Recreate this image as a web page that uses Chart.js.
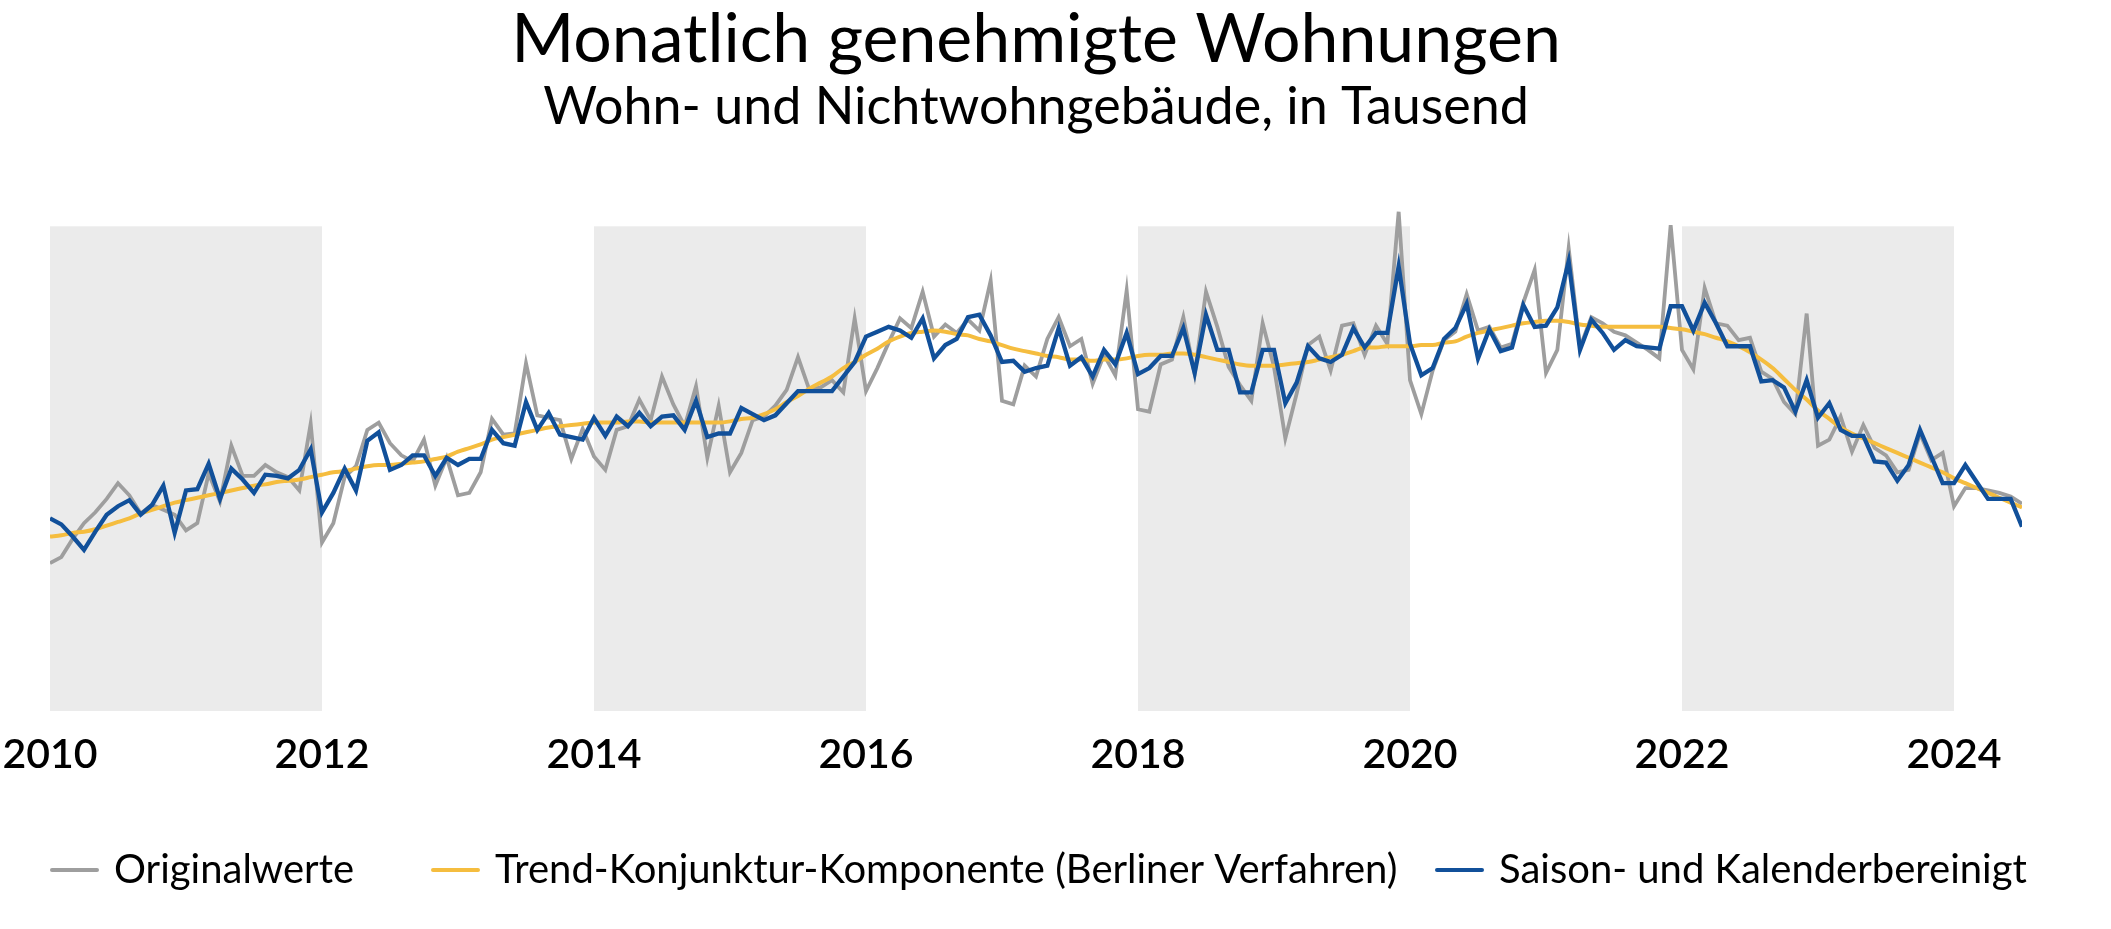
<!DOCTYPE html>
<html>
<head>
<meta charset="utf-8">
<script src="https://cdn.jsdelivr.net/npm/chart.js@4.4.1/dist/chart.umd.min.js"></script>
<style>
  html, body { margin: 0; padding: 0; background: #ffffff; }
  #wrap { width: 2111px; height: 929px; position: relative; }
</style>
</head>
<body>
<div id="wrap"><canvas id="chart"></canvas></div>
<script>
// ---------- data ----------
const startYear = 2010; // first month: January 2010, monthly values
const originalValues = [
  12.2, 12.7, 14.2, 15.5, 16.4, 17.5, 18.8, 17.8, 16.3, 17.0, 16.6, 16.2,
  14.9, 15.5, 19.6, 17.3, 21.9, 19.4, 19.4, 20.3, 19.7, 19.3, 18.2, 23.7,
  13.9, 15.5, 19.3, 20.2, 23.2, 23.8, 22.1, 21.1, 20.6, 22.4, 18.6, 20.9,
  17.8, 18.0, 19.7, 24.1, 22.8, 22.9, 28.7, 24.4, 24.2, 24.0, 20.8, 23.3,
  21.0, 19.9, 23.2, 23.5, 25.7, 24.0, 27.6, 25.3, 23.5, 26.8, 20.9, 25.2,
  19.7, 21.3, 24.0, 24.3, 25.2, 26.5, 29.2, 26.5, 26.7, 27.3, 26.3, 32.4,
  26.4, 28.3, 30.4, 32.4, 31.6, 34.6, 30.9, 31.9, 31.2, 32.3, 31.4, 35.5,
  25.6, 25.3, 28.5, 27.6, 30.7, 32.5, 30.1, 30.7, 27.0, 29.4, 27.7, 34.7,
  24.9, 24.7, 28.6, 29.0, 32.5, 27.8, 34.6, 31.7, 28.4, 26.9, 25.6, 32.0,
  28.4, 22.5, 26.2, 30.2, 30.9, 28.1, 31.8, 32.0, 29.4, 31.8, 30.3, 41.2,
  27.3, 24.5, 28.1, 30.6, 31.3, 34.4, 31.4, 31.7, 30.0, 30.3, 33.7, 36.4,
  27.9, 29.8, 38.2, 30.0, 32.5, 32.0, 31.3, 31.0, 30.4, 29.8, 29.1, 40.1,
  29.8, 28.2, 34.9, 32.0, 31.8, 30.6, 30.8, 28.0, 27.4, 25.5, 24.5, 32.8,
  21.9, 22.4, 24.3, 21.4, 23.6, 21.7, 21.1, 19.7, 19.9, 22.9, 20.7, 21.3,
  16.9, 18.4, 18.4, 18.2, 18.0, 17.7, 17.1
];
const trendValues = [
  14.4, 14.5, 14.7, 14.8, 15.0, 15.3, 15.6, 15.9, 16.3, 16.6, 16.9, 17.2,
  17.4, 17.6, 17.8, 18.0, 18.2, 18.4, 18.6, 18.7, 18.9, 19.0, 19.1, 19.3,
  19.5, 19.7, 19.8, 20.0, 20.2, 20.3, 20.3, 20.4, 20.5, 20.6, 20.8, 21.0,
  21.4, 21.7, 22.0, 22.4, 22.6, 22.8, 23.0, 23.2, 23.4, 23.5, 23.6, 23.7,
  23.8, 23.8, 23.8, 23.9, 23.9, 23.8, 23.8, 23.8, 23.8, 23.8, 23.8, 23.8,
  23.9, 24.1, 24.2, 24.5, 24.9, 25.5, 26.0, 26.6, 27.1, 27.6, 28.3, 28.8,
  29.4, 29.9, 30.5, 30.9, 31.2, 31.3, 31.4, 31.3, 31.1, 31.0, 30.7, 30.5,
  30.2, 29.9, 29.7, 29.5, 29.3, 29.2, 29.0, 29.0, 28.9, 29.0, 29.0, 29.1,
  29.3, 29.4, 29.4, 29.5, 29.5, 29.4, 29.2, 29.0, 28.8, 28.6, 28.5, 28.5,
  28.5, 28.6, 28.7, 28.8, 29.0, 29.2, 29.4, 29.7, 30.0, 30.0, 30.1, 30.1,
  30.1, 30.2, 30.2, 30.4, 30.5, 30.9, 31.2, 31.4, 31.6, 31.8, 32.0, 32.1,
  32.2, 32.2, 32.1, 31.9, 31.8, 31.7, 31.7, 31.7, 31.7, 31.7, 31.7, 31.6,
  31.5, 31.3, 31.1, 30.8, 30.5, 30.1, 29.6, 29.0, 28.3, 27.4, 26.5, 25.7,
  24.8, 24.1, 23.4, 22.9, 22.5, 22.1, 21.7, 21.3, 20.9, 20.5, 20.1, 19.7,
  19.2, 18.8, 18.4, 18.0, 17.6, 17.2, 16.8
];
const adjustedValues = [
  15.9, 15.4, 14.4, 13.3, 14.8, 16.2, 16.9, 17.4, 16.2, 17.0, 18.6, 14.7,
  18.2, 18.3, 20.4, 17.5, 20.0, 19.1, 18.0, 19.5, 19.4, 19.2, 19.9, 21.6,
  16.4, 18.0, 20.0, 18.2, 22.3, 23.0, 19.9, 20.3, 21.1, 21.1, 19.4, 20.9,
  20.3, 20.8, 20.8, 23.2, 22.1, 21.9, 25.5, 23.2, 24.6, 22.8, 22.6, 22.4,
  24.2, 22.7, 24.3, 23.5, 24.6, 23.5, 24.3, 24.4, 23.2, 25.6, 22.6, 22.9,
  22.9, 25.0, 24.5, 24.0, 24.4, 25.4, 26.4, 26.4, 26.4, 26.4, 27.6, 28.8,
  30.9, 31.3, 31.7, 31.4, 30.8, 32.4, 29.1, 30.2, 30.7, 32.5, 32.7, 31.0,
  28.8, 28.9, 28.0, 28.3, 28.5, 31.6, 28.5, 29.2, 27.6, 29.8, 28.6, 31.2,
  27.8, 28.3, 29.3, 29.3, 31.6, 27.9, 32.7, 29.8, 29.8, 26.3, 26.3, 29.8,
  29.8, 25.4, 27.1, 30.1, 29.1, 28.8, 29.4, 31.6, 30.0, 31.2, 31.2, 36.7,
  30.3, 27.7, 28.3, 30.7, 31.6, 33.6, 29.1, 31.5, 29.7, 30.0, 33.5, 31.7,
  31.8, 33.3, 37.1, 29.8, 32.3, 31.2, 29.8, 30.6, 30.1, 30.0, 29.9, 33.4,
  33.4, 31.4, 33.7, 32.0, 30.1, 30.1, 30.1, 27.2, 27.3, 26.7, 24.7, 27.3,
  24.2, 25.4, 23.2, 22.7, 22.7, 20.6, 20.5, 19.0, 20.3, 23.2, 21.0, 18.8,
  18.8, 20.3, 18.9, 17.5, 17.5, 17.5, 15.2
];
const tickYears = [2010, 2012, 2014, 2016, 2018, 2020, 2022, 2024];
const shadedStartYears = [2010, 2014, 2018, 2022];
const shadedSpanYears = 2;
const shadedTopValue = 40;
const seriesLabels = [
  'Originalwerte',
  'Trend-Konjunktur-Komponente (Berliner Verfahren)',
  'Saison- und Kalenderbereinigt'
];
const titleText = 'Monatlich genehmigte Wohnungen';
const subtitleText = 'Wohn- und Nichtwohngebäude, in Tausend';

// ---------- styling / layout ----------
const FONT = 'Lato, "Open Sans", sans-serif';
const COLORS = { original: '#9e9e9e', trend: '#f5bd3f', adjusted: '#11509a', band: '#ebebeb', text: '#000000' };
const legendLayout = { x: [50, 431, 1435], lineLength: 49, gap: 15, offsetBelowArea: 159, fontSize: 40 };

const toPoints = arr => arr.map((v, i) => ({ x: startYear + i / 12, y: v }));

const bandPlugin = {
  id: 'bands',
  beforeDatasetsDraw(chart) {
    const { ctx, scales: { x, y } } = chart;
    ctx.save();
    ctx.fillStyle = COLORS.band;
    shadedStartYears.forEach(s => {
      const x1 = x.getPixelForValue(s);
      const x2 = x.getPixelForValue(s + shadedSpanYears);
      const y1 = y.getPixelForValue(shadedTopValue);
      const y2 = y.getPixelForValue(0);
      ctx.fillRect(x1, y1, x2 - x1, y2 - y1);
    });
    ctx.restore();
  }
};

const legendPlugin = {
  id: 'bottomLegend',
  afterDraw(chart) {
    const { ctx, chartArea } = chart;
    const yMid = chartArea.bottom + legendLayout.offsetBelowArea;
    ctx.save();
    ctx.font = legendLayout.fontSize + 'px ' + FONT;
    ctx.textBaseline = 'middle';
    ctx.textAlign = 'left';
    chart.data.datasets.forEach((ds, i) => {
      const x0 = legendLayout.x[i];
      ctx.strokeStyle = ds.borderColor;
      ctx.lineWidth = 4;
      ctx.lineCap = 'round';
      ctx.beginPath();
      ctx.moveTo(x0 + 2, yMid);
      ctx.lineTo(x0 + legendLayout.lineLength - 2, yMid);
      ctx.stroke();
      ctx.fillStyle = COLORS.text;
      ctx.fillText(ds.label, x0 + legendLayout.lineLength + legendLayout.gap, yMid);
    });
    ctx.restore();
  }
};

new Chart(document.getElementById('chart'), {
  type: 'line',
  data: {
    datasets: [
      { label: seriesLabels[0], data: toPoints(originalValues), borderColor: COLORS.original, backgroundColor: COLORS.original,
        borderWidth: 3.8, pointRadius: 0, tension: 0, order: 3 },
      { label: seriesLabels[1], data: toPoints(trendValues), borderColor: COLORS.trend, backgroundColor: COLORS.trend,
        borderWidth: 4, pointRadius: 0, cubicInterpolationMode: 'monotone', order: 2 },
      { label: seriesLabels[2], data: toPoints(adjustedValues), borderColor: COLORS.adjusted, backgroundColor: COLORS.adjusted,
        borderWidth: 4.3, pointRadius: 0, tension: 0, order: 1 }
    ]
  },
  options: {
    responsive: true,
    maintainAspectRatio: false,
    animation: false,
    devicePixelRatio: 1,
    events: [],
    layout: { padding: { left: 50, right: 89, top: 0, bottom: 145 } },
    plugins: {
      legend: { display: false },
      tooltip: { enabled: false },
      title: {
        display: true, text: titleText, color: COLORS.text,
        font: { family: FONT, size: 68, weight: 'normal', lineHeight: 1 },
        padding: { top: 6, bottom: 7 }
      },
      subtitle: {
        display: true, text: subtitleText, color: COLORS.text,
        font: { family: FONT, size: 52, weight: 'normal', lineHeight: 1 },
        padding: { top: 0, bottom: 63 }
      }
    },
    scales: {
      x: {
        type: 'linear',
        min: startYear,
        max: startYear + (originalValues.length - 1) / 12,
        grid: { display: false, drawTicks: false },
        border: { display: false },
        ticks: {
          font: { family: FONT, size: 41, weight: '600', lineHeight: 1.2 },
          color: COLORS.text, padding: 19, maxRotation: 0, autoSkip: false,
          callback: v => String(v)
        },
        afterBuildTicks: s => { s.ticks = tickYears.map(v => ({ value: v })); },
        afterFit: s => { s.height = 73; s.paddingLeft = 0; s.paddingRight = 0; }
      },
      y: { display: false, min: 0, max: 42.5 }
    }
  },
  plugins: [bandPlugin, legendPlugin]
});
</script>
</body>
</html>
